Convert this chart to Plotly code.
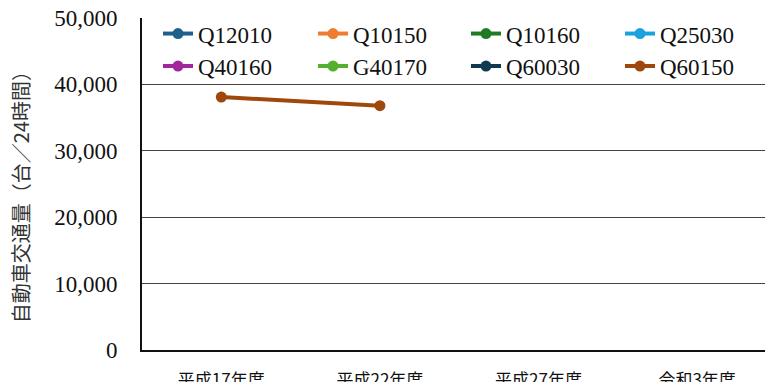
import plotly.graph_objects as go

# Survey years on the category axis
years = ["平成17年度", "平成22年度", "平成27年度", "令和3年度"]

# Traffic volume (vehicles / 24h) per observation point
q12010 = [None, None, None, None]
q10150 = [None, None, None, None]
q10160 = [None, None, None, None]
q25030 = [None, None, None, None]
q40160 = [None, None, None, None]
g40170 = [None, None, None, None]
q60030 = [None, None, None, None]
q60150 = [38100, 36800, None, None]

series_names = ["Q12010", "Q10150", "Q10160", "Q25030",
                "Q40160", "G40170", "Q60030", "Q60150"]
series_values = [q12010, q10150, q10160, q25030,
                 q40160, g40170, q60030, q60150]
series_colors = ["#1F5F8B", "#ED7D31", "#1E7B22", "#1AA1E0",
                 "#A1289A", "#55B030", "#0E3A50", "#9E480E"]

y_ticks = [0, 10000, 20000, 30000, 40000, 50000]
y_tick_text = ["0", "10,000", "20,000", "30,000", "40,000", "50,000"]

FONT = "Times New Roman"
CJK_FONT = "Noto Sans CJK JP"

# Plot-area geometry (pixels) used to place the legend grid
PLOT_LEFT = 142
PLOT_WIDTH = 765 - PLOT_LEFT
LEGEND_COL_PX = [158, 313, 466, 620]
LEGEND_ROW_Y = [0.953, 0.855]

fig = go.Figure()
layout_legends = {}
for i, (name, vals, col) in enumerate(zip(series_names, series_values, series_colors)):
    key = "legend" if i == 0 else f"legend{i + 1}"
    fig.add_trace(go.Scatter(
        x=years, y=vals, name=name, mode="lines+markers",
        line=dict(color=col, width=4),
        marker=dict(color=col, size=11),
        legend=key,
    ))
    col_i, row_i = i % 4, i // 4
    layout_legends[key] = dict(
        orientation="h", xref="paper", yref="paper",
        x=(LEGEND_COL_PX[col_i] - PLOT_LEFT) / PLOT_WIDTH,
        y=LEGEND_ROW_Y[row_i],
        xanchor="left", yanchor="middle",
        bgcolor="rgba(0,0,0,0)", borderwidth=0,
        font=dict(family=FONT, size=23, color="#111"),
    )

fig.update_layout(
    width=765, height=382,
    margin=dict(l=PLOT_LEFT, r=0, t=18, b=32),
    paper_bgcolor="white", plot_bgcolor="white",
    showlegend=True,
    xaxis=dict(
        type="category", categoryorder="array", categoryarray=years,
        range=[-0.5, 3.428], automargin=False,
        showgrid=False, showline=True, linecolor="#111", linewidth=2,
        ticks="", ticklabelstandoff=14,
        tickfont=dict(family=CJK_FONT, size=17, color="#111"),
    ),
    yaxis=dict(
        range=[0, 50000], tickvals=y_ticks, ticktext=y_tick_text,
        automargin=False,
        showgrid=True, gridcolor="#444", gridwidth=1,
        showline=True, linecolor="#111", linewidth=2, mirror=True,
        ticks="", ticklabelstandoff=18, zeroline=False,
        tickfont=dict(family=FONT, size=23, color="#111"),
    ),
    annotations=[dict(
        text="自動車交通量（台／24時間）", textangle=-90,
        xref="paper", yref="paper", x=-(PLOT_LEFT - 20) / PLOT_WIDTH, y=0.475,
        xanchor="center", yanchor="middle", showarrow=False,
        font=dict(family=CJK_FONT, size=20, color="#333"),
    )],
    **layout_legends,
)

fig.write_html("out.html")
